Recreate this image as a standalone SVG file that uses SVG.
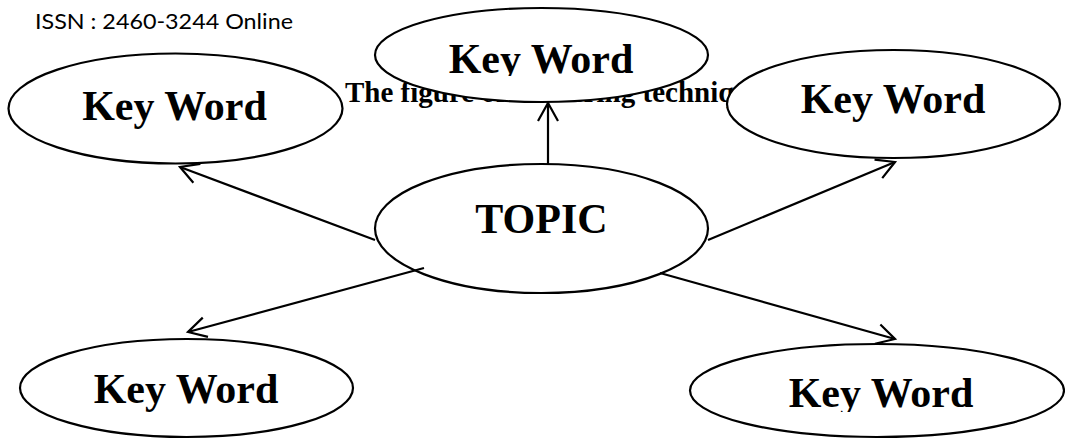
<svg xmlns="http://www.w3.org/2000/svg" width="1065" height="439" viewBox="0 0 1065 439">
<style>
  .node ellipse { fill: #ffffff; stroke: #000000; stroke-width: 2.2; }
  .kw { font-family: "Liberation Serif", "Times New Roman", serif; font-weight: bold; font-size: 42px; fill: #000000; text-anchor: middle; }
  .cap { font-family: "Liberation Serif", "Times New Roman", serif; font-weight: bold; font-size: 29px; fill: #000000; }
  .hdr { font-family: Lato, "Liberation Sans", sans-serif; font-size: 21px; fill: #000000; }
  .conn line { stroke: #000000; stroke-width: 2.2; fill: none; }
</style>
<defs>
  <marker id="arrow" markerUnits="userSpaceOnUse" viewBox="-22 -13 24 26" markerWidth="24" markerHeight="26" refX="0" refY="0" orient="auto" overflow="visible">
    <path d="M -18 -10 L 0 0 L -18 10" fill="none" stroke="#000000" stroke-width="2.2"/>
  </marker>
  <clipPath id="clipTC" clipPathUnits="userSpaceOnUse"><rect x="0" y="0" width="1065" height="76"/></clipPath>
  <clipPath id="clipBR" clipPathUnits="userSpaceOnUse"><rect x="0" y="0" width="1065" height="412"/></clipPath>
</defs>
<rect x="0" y="0" width="1065" height="439" fill="#ffffff"/>

<text class="hdr" x="35" y="29" textLength="258" lengthAdjust="spacingAndGlyphs">ISSN : 2460-3244 Online</text>

<text class="cap" x="345" y="102">The figure of clustering technique</text>

<g id="node-topic" class="node">
  <ellipse cx="541.5" cy="228.5" rx="166.5" ry="64.5"/>
  <text class="kw" x="541.5" y="233">TOPIC</text>
</g>
<g id="node-kw-top-left" class="node">
  <ellipse cx="175.5" cy="108.5" rx="167" ry="55"/>
  <text class="kw" x="174.5" y="120">Key Word</text>
</g>
<g id="node-kw-top-center" class="node">
  <ellipse cx="541.5" cy="55" rx="166.5" ry="47"/>
  <text class="kw" x="541" y="73" clip-path="url(#clipTC)">Key Word</text>
</g>
<g id="node-kw-top-right" class="node">
  <ellipse cx="893.5" cy="104" rx="166.5" ry="54"/>
  <text class="kw" x="893" y="113">Key Word</text>
</g>
<g id="node-kw-bottom-left" class="node">
  <ellipse cx="186.5" cy="388" rx="166.5" ry="49"/>
  <text class="kw" x="186" y="403">Key Word</text>
</g>
<g id="node-kw-bottom-right" class="node">
  <ellipse cx="877" cy="390.5" rx="187" ry="46.5"/>
  <text class="kw" x="881" y="407" clip-path="url(#clipBR)">Key Word</text>
</g>

<g id="connectors" class="conn">
  <line x1="375" y1="240" x2="180" y2="167" marker-end="url(#arrow)"/>
  <line x1="548" y1="164" x2="548" y2="103" marker-end="url(#arrow)"/>
  <line x1="708" y1="240" x2="895" y2="162" marker-end="url(#arrow)"/>
  <line x1="424" y1="268" x2="188" y2="332" marker-end="url(#arrow)"/>
  <line x1="660" y1="273" x2="895" y2="339" marker-end="url(#arrow)"/>
</g>
</svg>
